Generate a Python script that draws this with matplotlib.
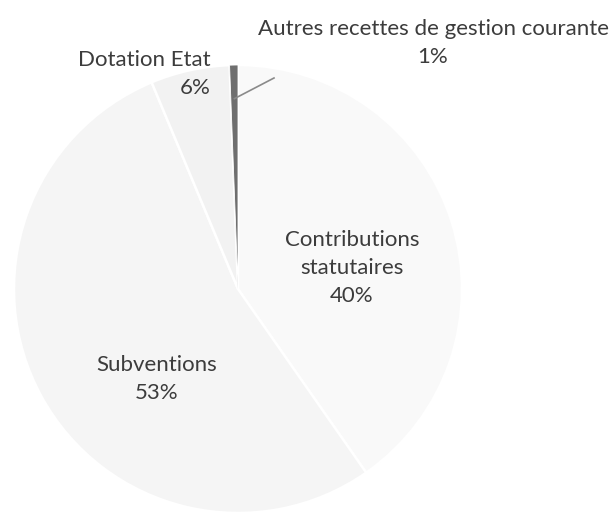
import numpy as np
import matplotlib
matplotlib.use("Agg")
import matplotlib.pyplot as plt

# slice data (clockwise from 12 o'clock, as drawn)
labels = ["Contributions\nstatutaires", "Subventions", "Dotation Etat",
          "Autres recettes de gestion courante"]
shares = [40.3, 53.4, 5.7, 0.6]
colors = ["#f9f9f9", "#f5f5f5", "#f2f2f2", "#6f6f6f"]

W, H = 614, 513
# pie centre / radius in pixel units (y measured from the top)
cx, cy, R = 238, 289, 224

# label anchors in pixels (x, y from top, horizontal alignment)
label_pos = [(352, 268, "center"), (157, 379, "center"),
             (211, 74, "right"), (433, 43, "center")]

plt.rcParams['font.family'] = ['Lato', 'DejaVu Sans']

fig = plt.figure(figsize=(W / 100, H / 100), dpi=100)
ax = fig.add_axes([0, 0, 1, 1])
ax.set_xlim(0, W)
ax.set_ylim(0, H)
ax.axis("off")

wedges, _ = ax.pie(shares, colors=colors, startangle=90, counterclock=False,
                   center=(cx, H - cy), radius=R,
                   wedgeprops=dict(edgecolor="white", linewidth=1.8))
wedges[3].set_linewidth(0.6)
ax.set_xlim(0, W)
ax.set_ylim(0, H)

for lab, v, (x, y, ha) in zip(labels, shares, label_pos):
    ax.text(x, H - y, f"{lab}\n{round(v)}%", ha=ha, va="center",
            multialignment=ha, fontsize=16, color="#3c3c3c",
            linespacing=1.5)

# leader line for the small slice
w = wedges[3]
mid = np.deg2rad((w.theta1 + w.theta2) / 2)
x0 = cx + 0.85 * R * np.cos(mid)
y0 = H - cy + 0.85 * R * np.sin(mid)
ax.plot([x0, 274], [y0, H - 78], color="#8a8a8a", lw=1.2)

fig.savefig("out.png", dpi=100)
